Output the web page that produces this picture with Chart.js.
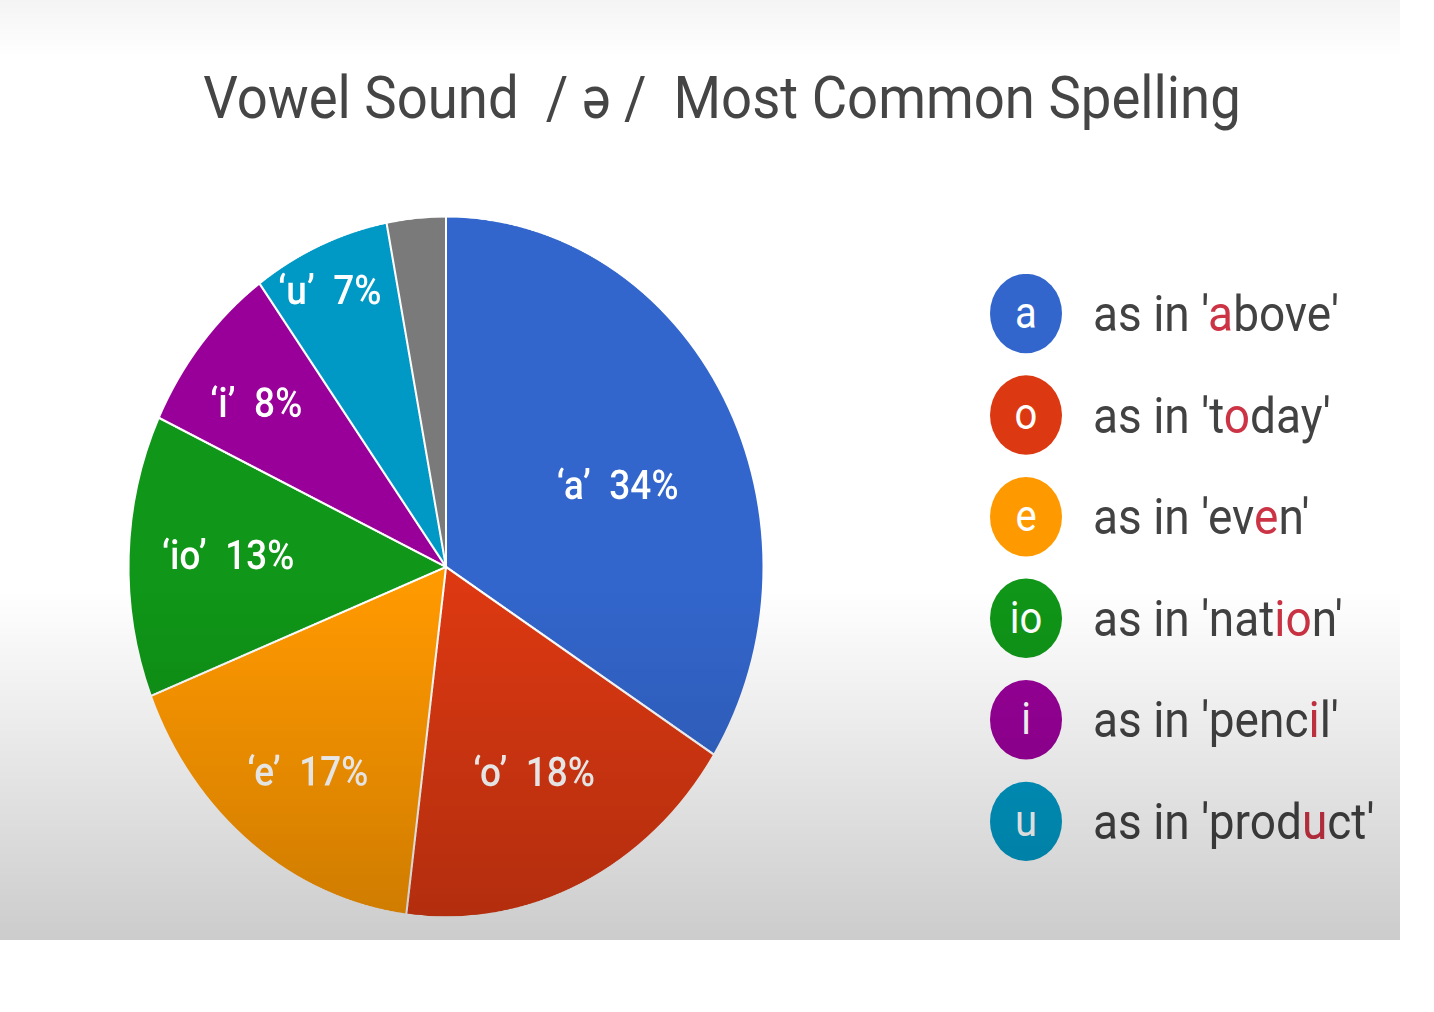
<!DOCTYPE html>
<html>
<head>
<meta charset="utf-8">
<script src="https://cdn.jsdelivr.net/npm/chart.js@4/dist/chart.umd.min.js"></script>
<style>
  html, body { margin: 0; padding: 0; background: #ffffff; }
  #frame { position: absolute; left: 0; top: 0; width: 1400px; height: 940px; background: #ffffff; overflow: hidden; }
  #stretch { position: absolute; left: 0; top: 0; width: 1400px; height: 851.5px; transform: scaleY(1.104); transform-origin: 0 0; }
  #pie { position: absolute; left: 0; top: 0; }
  #title { position: absolute; left: -78px; width: 1600px; top: 61px; text-align: center; font-family: Roboto, "Noto Sans", sans-serif; font-size: 54.5px; line-height: 55px; color: #454545; white-space: pre; }
  .row { position: absolute; left: 990px; height: 72px; line-height: 72px; white-space: pre; font-family: Roboto, "Noto Sans", sans-serif; }
  .dot { position: absolute; left: 0; top: 0; width: 72px; height: 72px; border-radius: 50%; color: #ffffff; text-align: center; font-size: 40px; line-height: 72px; }
  .txt { position: absolute; left: 103px; top: 0; font-size: 46px; color: #424242; }
  .hl { color: #cc3344; }
  #overlay { position: absolute; left: 0; top: 0; width: 1400px; height: 940px; pointer-events: none;
    background: linear-gradient(to bottom, rgba(0,0,0,0.045) 0px, rgba(0,0,0,0) 58px, rgba(0,0,0,0) 590px, rgba(0,0,0,0.2) 940px); }
</style>
</head>
<body>
<div id="frame">
  <div id="stretch">
    <div id="title"></div>
    <canvas id="pie" width="1400" height="851"></canvas>
    <div id="legend"></div>
  </div>
  <div id="overlay"></div>
</div>
<script>
// ---- data ----
const titleText = 'Vowel Sound  / \u0259 /  Most Common Spelling';
const categories = ['a', 'o', 'e', 'io', 'i', 'u', 'other'];
const percentages = [34, 18, 17, 13, 8, 7, 3];
const legendCategories = ['a', 'o', 'e', 'io', 'i', 'u'];
const examplePrefix = ['', 't', 'ev', 'nat', 'penc', 'prod'];
const exampleHighlight = ['a', 'o', 'e', 'io', 'i', 'u'];
const exampleSuffix = ['bove', 'day', 'n', 'n', 'l', 'ct'];

// ---- styles ----
const sliceColors = ['#3366cc', '#dc3912', '#ff9900', '#109618', '#990099', '#0099c6', '#7a7a7a'];
const labelRadiusFrac = [0.59, 0.655, 0.735, 0.69, 0.76, 0.87, 0];
const labelAngleShiftDeg = [5.8, 0, -1.3, 0.6, -1.8, -1.6, 0];
const legendTop = 247.5;
const legendStep = 92;

document.getElementById('title').textContent = titleText;

const legend = document.getElementById('legend');
legendCategories.forEach((c, i) => {
  const row = document.createElement('div');
  row.className = 'row';
  row.style.top = (legendTop + i * legendStep) + 'px';
  const dot = document.createElement('div');
  dot.className = 'dot';
  dot.style.background = sliceColors[i];
  dot.textContent = c;
  const txt = document.createElement('div');
  txt.className = 'txt';
  txt.appendChild(document.createTextNode("as in '" + examplePrefix[i]));
  const hl = document.createElement('span');
  hl.className = 'hl';
  hl.textContent = exampleHighlight[i];
  txt.appendChild(hl);
  txt.appendChild(document.createTextNode(exampleSuffix[i] + "'"));
  row.appendChild(dot);
  row.appendChild(txt);
  legend.appendChild(row);
});

const sliceLabels = {
  id: 'sliceLabels',
  afterDatasetsDraw(chart) {
    const ctx = chart.ctx;
    const meta = chart.getDatasetMeta(0);
    ctx.save();
    ctx.fillStyle = '#ffffff';
    ctx.font = '500 37px Roboto, "Noto Sans", sans-serif';
    ctx.textAlign = 'center';
    ctx.textBaseline = 'middle';
    meta.data.forEach((el, i) => {
      if (categories[i] === 'other') return;
      const p = el.getProps(['x', 'y', 'startAngle', 'endAngle', 'outerRadius'], true);
      const mid = (p.startAngle + p.endAngle) / 2 + labelAngleShiftDeg[i] * Math.PI / 180;
      const r = 316 * labelRadiusFrac[i];
      const tx = p.x + Math.cos(mid) * r;
      const ty = p.y + Math.sin(mid) * r + 2;
      ctx.fillText('\u2018' + categories[i] + '\u2019  ' + percentages[i] + '%', tx, ty);
    });
    ctx.restore();
  }
};

new Chart(document.getElementById('pie'), {
  type: 'pie',
  data: {
    labels: categories,
    datasets: [{
      data: percentages,
      backgroundColor: sliceColors,
      borderColor: '#ffffff',
      borderWidth: 2,
      hoverOffset: 0
    }]
  },
  options: {
    responsive: false,
    animation: false,
    devicePixelRatio: 2,
    layout: { padding: { left: 127.5, top: 195, right: 635.5, bottom: 19 } },
    plugins: {
      legend: { display: false },
      tooltip: { enabled: false },
      title: { display: false }
    }
  },
  plugins: [sliceLabels]
});
</script>
</body>
</html>
